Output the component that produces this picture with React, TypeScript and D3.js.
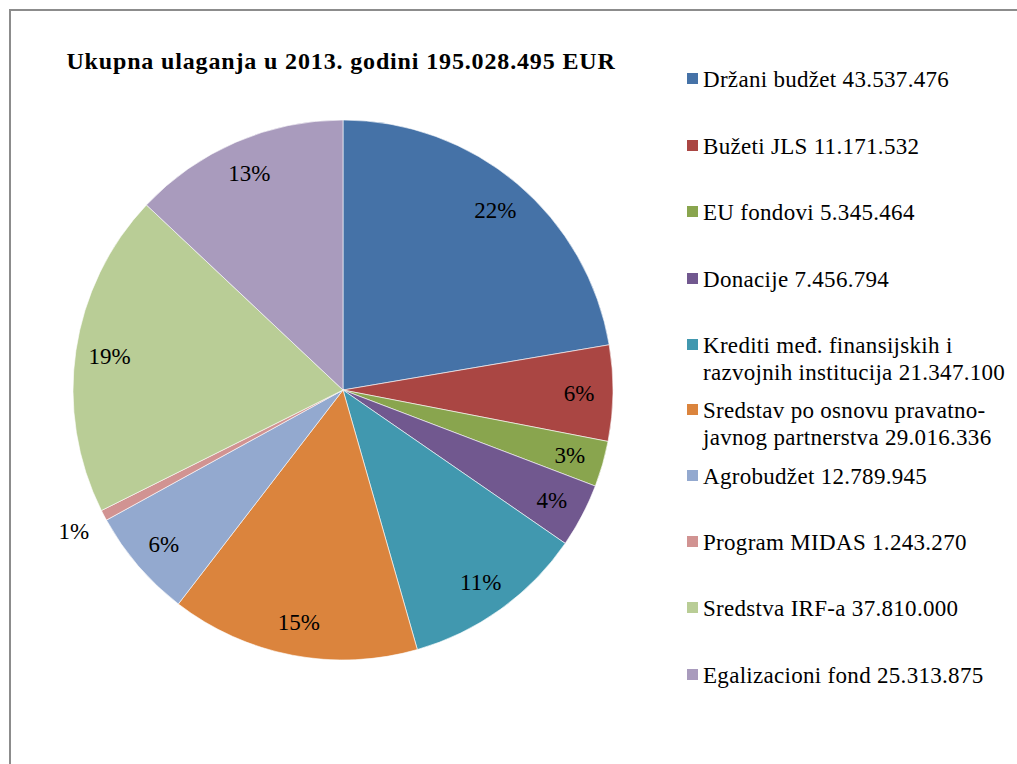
import React, { useEffect, useRef } from 'react';
import * as d3 from 'd3';

const categories = [
  'Držani budžet',
  'Bužeti JLS',
  'EU fondovi',
  'Donacije',
  'Krediti međ. finansijskih i razvojnih institucija',
  'Sredstav po osnovu pravatno-javnog partnerstva',
  'Agrobudžet',
  'Program MIDAS',
  'Sredstva IRF-a',
  'Egalizacioni fond',
];
const values = [43537476, 11171532, 5345464, 7456794, 21347100, 29016336, 12789945, 1243270, 37810000, 25313875];
// percentage labels as printed on the slices
const pctLabels = ['22%', '6%', '3%', '4%', '11%', '15%', '6%', '1%', '19%', '13%'];
// legend text as printed (some entries wrap to two lines)
const legendLines = [
  ['Držani budžet 43.537.476'],
  ['Bužeti JLS 11.171.532'],
  ['EU fondovi 5.345.464'],
  ['Donacije 7.456.794'],
  ['Krediti međ. finansijskih i', 'razvojnih institucija 21.347.100'],
  ['Sredstav po osnovu pravatno-', 'javnog partnerstva 29.016.336'],
  ['Agrobudžet 12.789.945'],
  ['Program MIDAS 1.243.270'],
  ['Sredstva IRF-a 37.810.000'],
  ['Egalizacioni fond 25.313.875'],
];
const colors = ['#4572A7', '#AA4643', '#89A54E', '#71588F', '#4198AF', '#DB843D', '#93A9CF', '#D19392', '#B9CD96', '#A99BBD'];
const title = 'Ukupna ulaganja u 2013. godini 195.028.495 EUR';

const W = 1017;
const H = 764;

export default function App() {
  const svgRef = useRef<SVGSVGElement>(null);

  useEffect(() => {
    const svg = d3.select(svgRef.current);
    svg.selectAll('*').remove();
    const font = 'Liberation Serif, serif';

    svg.append('rect').attr('width', W).attr('height', H).attr('fill', 'white');
    // chart area border
    svg.append('rect')
      .attr('x', 10).attr('y', 10).attr('width', W + 20).attr('height', H + 20)
      .attr('fill', 'none').attr('stroke', '#8c8c8c').attr('stroke-width', 2);

    svg.append('text')
      .attr('x', 341).attr('y', 69)
      .attr('text-anchor', 'middle')
      .attr('font-family', font).attr('font-weight', 'bold').attr('font-size', 24)
      .attr('letter-spacing', 0.85)
      .text(title);

    const cx = 343, cy = 390, r = 270;
    const pie = d3.pie<number>().sort(null).value(d => d);
    const arcs = pie(values);
    const arc = d3.arc<d3.PieArcDatum<number>>().innerRadius(0).outerRadius(r);

    const g = svg.append('g').attr('transform', `translate(${cx},${cy})`);
    g.selectAll('path.slice')
      .data(arcs)
      .enter()
      .append('path')
      .attr('class', 'slice')
      .attr('d', arc)
      .attr('fill', (d, i) => colors[i])
      .attr('stroke', 'white')
      .attr('stroke-width', 0.6);

    const inside = d3.arc<d3.PieArcDatum<number>>().innerRadius(236).outerRadius(236);
    const outside = d3.arc<d3.PieArcDatum<number>>().innerRadius(304).outerRadius(304);
    g.selectAll('text.pct')
      .data(arcs)
      .enter()
      .append('text')
      .attr('class', 'pct')
      .attr('transform', (d, i) => {
        const [x, y] = (pctLabels[i] === '1%' ? outside : inside).centroid(d);
        return `translate(${x},${y})`;
      })
      .attr('text-anchor', 'middle')
      .attr('dy', '0.35em')
      .attr('font-family', font).attr('font-size', 23)
      .text((d, i) => pctLabels[i]);

    // legend
    const rowY = [79, 146, 212, 279, 345, 410, 476, 542, 608, 675];
    const lg = svg.append('g');
    legendLines.forEach((lines, i) => {
      lg.append('rect')
        .attr('x', 687).attr('y', rowY[i] - 6).attr('width', 11).attr('height', 11)
        .attr('fill', colors[i]);
      lines.forEach((ln, j) => {
        lg.append('text')
          .attr('x', 703).attr('y', rowY[i] + j * 27)
          .attr('dy', '0.35em')
          .attr('font-family', font).attr('font-size', 23)
          .attr('letter-spacing', 0.3)
          .text(ln);
      });
    });
  }, []);

  return (
    <svg
      ref={svgRef}
      width={W}
      height={H}
      style={{ position: 'absolute', left: 0, top: 0, display: 'block' }}
    />
  );
}
